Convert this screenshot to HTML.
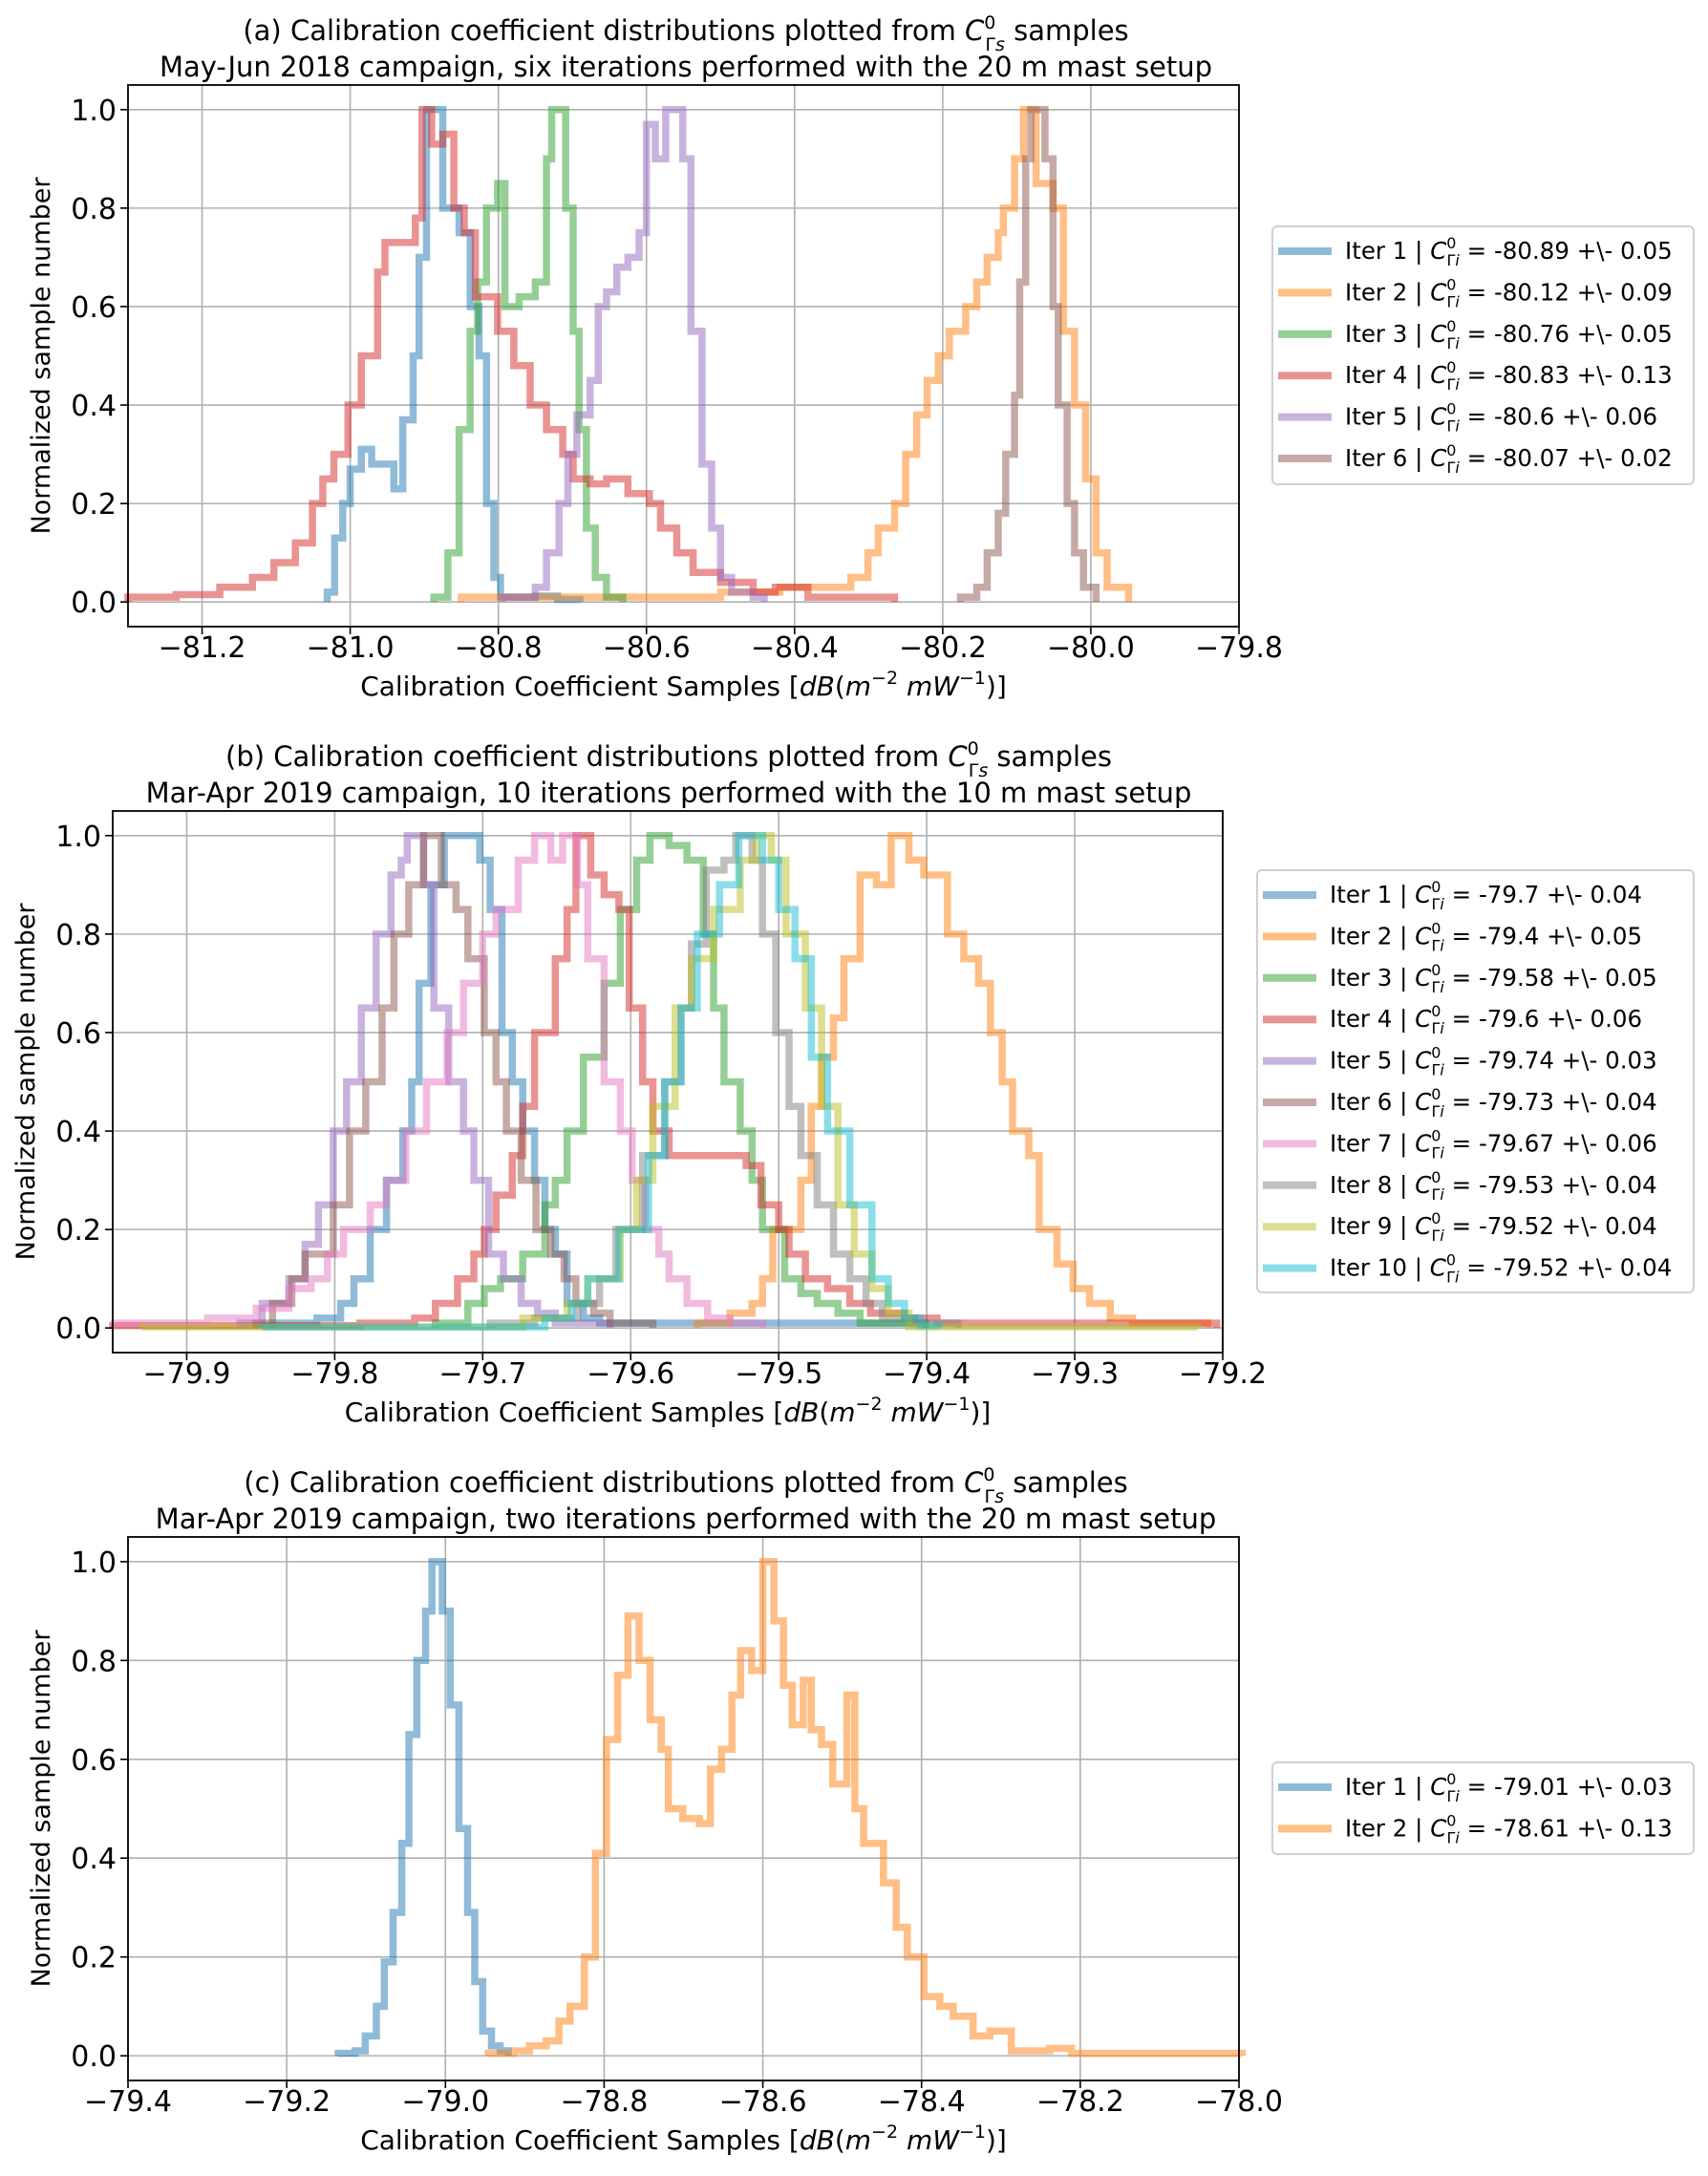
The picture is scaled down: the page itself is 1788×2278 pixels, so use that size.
<!DOCTYPE html>
<html><head><meta charset="utf-8">
<style>
html,body{margin:0;padding:0;background:#fff;}
svg{display:block;font-family:"DejaVu Sans","Liberation Sans",sans-serif;}
</style></head>
<body>
<svg id="fig" width="1788" height="2278" viewBox="0 0 1788 2278" xmlns="http://www.w3.org/2000/svg"></svg>
<script>
// ---------- data (bin left edge, normalized height) ----------
const colors = ["#1f77b4","#ff7f0e","#2ca02c","#d62728","#9467bd","#8c564b","#e377c2","#7f7f7f","#bcbd22","#17becf"];

// Panel (a)
const aLabels = ["-80.89 +\\- 0.05","-80.12 +\\- 0.09","-80.76 +\\- 0.05","-80.83 +\\- 0.13","-80.6 +\\- 0.06","-80.07 +\\- 0.02"];
const aXTicks = [-81.2,-81.0,-80.8,-80.6,-80.4,-80.2,-80.0,-79.8];
const aX1 = [-81.031,-81.021,-81.010,-81.0,-80.985,-80.971,-80.941,-80.929,-80.915,-80.907,-80.897,-80.875,-80.853,-80.838,-80.826,-80.816,-80.806,-80.797,-80.75,-80.72,-80.69];
const aY1 = [0.02,0.13,0.2,0.27,0.31,0.28,0.23,0.37,0.5,0.7,1.0,0.8,0.75,0.6,0.5,0.2,0.05,0.01,0.012,0.005,0];
const aX2 = [-80.85,-80.5,-80.42,-80.324,-80.301,-80.287,-80.265,-80.25,-80.235,-80.221,-80.206,-80.191,-80.169,-80.154,-80.140,-80.125,-80.118,-80.103,-80.091,-80.074,-80.051,-80.037,-80.022,-80.007,-79.993,-79.978,-79.949];
const aY2 = [0.01,0.02,0.03,0.05,0.1,0.15,0.2,0.3,0.38,0.45,0.5,0.55,0.6,0.65,0.7,0.75,0.8,0.9,1.0,0.85,0.8,0.55,0.4,0.25,0.1,0.03,0];
const aX3 = [-80.887,-80.868,-80.853,-80.838,-80.828,-80.816,-80.801,-80.791,-80.772,-80.75,-80.735,-80.728,-80.709,-80.699,-80.691,-80.681,-80.669,-80.654,-80.632];
const aY3 = [0.01,0.1,0.35,0.55,0.65,0.8,0.85,0.6,0.62,0.65,0.9,1.0,0.8,0.55,0.35,0.15,0.05,0.01,0];
const aX4 = [-81.3,-81.235,-81.176,-81.132,-81.103,-81.074,-81.051,-81.037,-81.022,-81.003,-80.985,-80.963,-80.953,-80.912,-80.903,-80.890,-80.875,-80.860,-80.846,-80.831,-80.801,-80.779,-80.757,-80.735,-80.713,-80.699,-80.676,-80.654,-80.625,-80.596,-80.581,-80.559,-80.537,-80.5,-80.456,-80.426,-80.382,-80.265];
const aY4 = [0.01,0.015,0.03,0.05,0.08,0.12,0.2,0.25,0.3,0.4,0.5,0.67,0.73,0.78,1.0,0.93,0.95,0.8,0.75,0.62,0.55,0.48,0.4,0.35,0.3,0.25,0.24,0.25,0.22,0.2,0.15,0.1,0.06,0.04,0.02,0.03,0.01,0];
const aX5 = [-80.794,-80.75,-80.735,-80.718,-80.706,-80.694,-80.676,-80.665,-80.654,-80.640,-80.625,-80.610,-80.6,-80.588,-80.574,-80.551,-80.540,-80.525,-80.512,-80.5,-80.485,-80.456,-80.441];
const aY5 = [0.01,0.03,0.1,0.2,0.3,0.38,0.45,0.6,0.63,0.68,0.7,0.75,0.97,0.9,1.0,0.9,0.55,0.28,0.15,0.05,0.02,0.01,0];
const aX6 = [-80.176,-80.154,-80.140,-80.125,-80.115,-80.103,-80.096,-80.088,-80.081,-80.062,-80.051,-80.044,-80.032,-80.022,-80.010,-79.993];
const aY6 = [0.01,0.03,0.1,0.18,0.3,0.42,0.65,0.9,1.0,0.9,0.6,0.4,0.2,0.1,0.03,0];

// Panel (b)
const bLabels = ["-79.7 +\\- 0.04","-79.4 +\\- 0.05","-79.58 +\\- 0.05","-79.6 +\\- 0.06","-79.74 +\\- 0.03","-79.73 +\\- 0.04","-79.67 +\\- 0.06","-79.53 +\\- 0.04","-79.52 +\\- 0.04","-79.52 +\\- 0.04"];
const bXTicks = [-79.9,-79.8,-79.7,-79.6,-79.5,-79.4,-79.3,-79.2];
const bX1 = [-79.842,-79.812,-79.796,-79.787,-79.776,-79.765,-79.754,-79.748,-79.743,-79.735,-79.726,-79.702,-79.695,-79.687,-79.680,-79.673,-79.665,-79.658,-79.651,-79.643,-79.632,-79.621,-79.401];
const bY1 = [0.01,0.02,0.05,0.1,0.2,0.3,0.4,0.5,0.7,0.9,1.0,0.95,0.85,0.6,0.5,0.4,0.3,0.2,0.15,0.05,0.02,0.01,0];
const bX2 = [-79.555,-79.533,-79.518,-79.511,-79.504,-79.485,-79.478,-79.471,-79.463,-79.456,-79.445,-79.434,-79.424,-79.412,-79.402,-79.386,-79.375,-79.365,-79.357,-79.349,-79.342,-79.331,-79.324,-79.312,-79.301,-79.290,-79.276,-79.261,-79.210];
const bY2 = [0.01,0.03,0.05,0.1,0.2,0.3,0.45,0.55,0.63,0.75,0.92,0.9,1.0,0.95,0.92,0.8,0.75,0.7,0.6,0.5,0.4,0.35,0.2,0.13,0.08,0.05,0.02,0.01,0];
const bX3 = [-79.732,-79.710,-79.699,-79.688,-79.673,-79.658,-79.651,-79.643,-79.632,-79.618,-79.607,-79.596,-79.587,-79.574,-79.562,-79.551,-79.544,-79.537,-79.526,-79.518,-79.511,-79.496,-79.485,-79.474,-79.460,-79.445,-79.401];
const bY3 = [0.01,0.05,0.08,0.1,0.15,0.25,0.3,0.4,0.55,0.7,0.85,0.95,1.0,0.98,0.95,0.8,0.65,0.5,0.4,0.3,0.2,0.1,0.07,0.05,0.03,0.01,0];
const bX4 = [-79.95,-79.783,-79.746,-79.732,-79.717,-79.706,-79.699,-79.691,-79.680,-79.673,-79.665,-79.651,-79.643,-79.637,-79.627,-79.618,-79.608,-79.601,-79.592,-79.585,-79.574,-79.548,-79.522,-79.512,-79.5,-79.493,-79.482,-79.467,-79.452,-79.438,-79.415,-79.393,-79.204];
const bY4 = [0.005,0.01,0.02,0.05,0.1,0.15,0.2,0.27,0.35,0.45,0.6,0.75,0.85,1.0,0.92,0.88,0.85,0.65,0.5,0.4,0.35,0.35,0.33,0.25,0.2,0.15,0.1,0.08,0.05,0.03,0.02,0.01,0];
const bX5 = [-79.864,-79.849,-79.831,-79.820,-79.811,-79.801,-79.792,-79.782,-79.772,-79.762,-79.755,-79.751,-79.740,-79.733,-79.723,-79.713,-79.706,-79.696,-79.686,-79.674,-79.663,-79.651,-79.614];
const bY5 = [0.01,0.05,0.1,0.17,0.25,0.4,0.5,0.65,0.8,0.92,0.95,1.0,0.9,0.65,0.5,0.4,0.3,0.15,0.1,0.05,0.03,0.01,0];
const bX6 = [-79.853,-79.842,-79.829,-79.820,-79.801,-79.790,-79.779,-79.768,-79.760,-79.750,-79.740,-79.728,-79.718,-79.710,-79.699,-79.691,-79.684,-79.674,-79.664,-79.654,-79.645,-79.637,-79.625,-79.614,-79.585];
const bY6 = [0.01,0.05,0.1,0.15,0.25,0.4,0.5,0.65,0.8,0.9,1.0,0.9,0.85,0.75,0.6,0.5,0.4,0.3,0.2,0.15,0.1,0.05,0.03,0.01,0];
const bX7 = [-79.949,-79.886,-79.853,-79.831,-79.816,-79.805,-79.794,-79.776,-79.765,-79.752,-79.738,-79.724,-79.713,-79.700,-79.691,-79.676,-79.665,-79.654,-79.646,-79.636,-79.629,-79.618,-79.607,-79.599,-79.590,-79.581,-79.574,-79.562,-79.548,-79.533,-79.511];
const bY7 = [0.01,0.02,0.04,0.08,0.1,0.15,0.2,0.25,0.3,0.4,0.5,0.6,0.7,0.8,0.85,0.95,1.0,0.95,1.0,0.9,0.75,0.5,0.4,0.3,0.2,0.15,0.1,0.05,0.02,0.01,0];
const bX8 = [-79.695,-79.665,-79.636,-79.621,-79.610,-79.592,-79.577,-79.566,-79.559,-79.549,-79.537,-79.529,-79.518,-79.511,-79.502,-79.493,-79.485,-79.474,-79.463,-79.452,-79.441,-79.430,-79.408,-79.379];
const bY8 = [0.01,0.02,0.05,0.1,0.2,0.35,0.5,0.65,0.78,0.93,0.95,1.0,0.95,0.8,0.6,0.45,0.35,0.25,0.15,0.1,0.05,0.02,0.01,0];
const bX9 = [-79.930,-79.673,-79.643,-79.629,-79.607,-79.596,-79.585,-79.570,-79.559,-79.544,-79.526,-79.515,-79.505,-79.495,-79.482,-79.471,-79.460,-79.449,-79.437,-79.426,-79.412,-79.217];
const bY9 = [0.002,0.02,0.05,0.1,0.2,0.3,0.45,0.65,0.75,0.85,0.95,1.0,0.95,0.8,0.65,0.45,0.25,0.15,0.08,0.03,0.002,0];
const bX10 = [-79.849,-79.658,-79.640,-79.629,-79.608,-79.588,-79.577,-79.566,-79.555,-79.540,-79.527,-79.511,-79.5,-79.489,-79.478,-79.467,-79.452,-79.437,-79.426,-79.415,-79.404,-79.392];
const bY10 = [0.002,0.02,0.05,0.1,0.2,0.35,0.5,0.65,0.8,0.9,1.0,0.95,0.85,0.75,0.55,0.4,0.25,0.1,0.05,0.02,0.005,0];

// Panel (c)
const cLabels = ["-79.01 +\\- 0.03","-78.61 +\\- 0.13"];
const cXTicks = [-79.4,-79.2,-79.0,-78.8,-78.6,-78.4,-78.2,-78.0];
const cX1 = [-79.135,-79.114,-79.101,-79.087,-79.077,-79.066,-79.055,-79.046,-79.036,-79.025,-79.017,-79.004,-78.994,-78.983,-78.972,-78.963,-78.953,-78.942,-78.931,-78.921];
const cY1 = [0.005,0.01,0.04,0.1,0.19,0.29,0.43,0.65,0.8,0.9,1.0,0.9,0.71,0.46,0.29,0.15,0.05,0.02,0.01,0];
const cX2 = [-78.946,-78.914,-78.894,-78.873,-78.857,-78.843,-78.825,-78.811,-78.797,-78.783,-78.770,-78.756,-78.742,-78.728,-78.719,-78.701,-78.680,-78.666,-78.652,-78.639,-78.628,-78.614,-78.600,-78.586,-78.574,-78.563,-78.549,-78.539,-78.526,-78.512,-78.494,-78.484,-78.473,-78.448,-78.432,-78.418,-78.397,-78.377,-78.360,-78.335,-78.314,-78.287,-78.239,-78.211,-77.996];
const cY2 = [0.005,0.01,0.02,0.03,0.07,0.1,0.2,0.41,0.64,0.77,0.89,0.8,0.68,0.62,0.5,0.48,0.47,0.58,0.62,0.73,0.82,0.78,1.0,0.88,0.75,0.67,0.76,0.66,0.63,0.55,0.73,0.5,0.43,0.35,0.26,0.2,0.12,0.1,0.08,0.04,0.05,0.01,0.015,0.005,0];

const yTicks = [0.0,0.2,0.4,0.6,0.8,1.0];

// ---------- drawing ----------
const NS = "http://www.w3.org/2000/svg";
const svg = document.getElementById("fig");
function mk(tag, attrs, parent){ const e=document.createElementNS(NS,tag); for(const k in attrs) e.setAttribute(k,attrs[k]); (parent||svg).appendChild(e); return e; }

function panel(cfg){
  const g = mk("g",{});
  
  
  const L=cfg.L,R=cfg.R,T=cfg.T,B=cfg.B;
  const xs = v => L + (v-cfg.xmin)/(cfg.xmax-cfg.xmin)*(R-L);
  const ys = v => B - (v-(-0.05))/1.1*(B-T);
  cfg.xticks.forEach(t=>{
    const gl = mk("line",{x1:xs(t),x2:xs(t),y1:T,y2:B,stroke:"#b0b0b0","stroke-width":1.6},g);
    
    
  });
  yTicks.forEach(t=>{
    const gl = mk("line",{x1:L,x2:R,y1:ys(t),y2:ys(t),stroke:"#b0b0b0","stroke-width":1.6},g);
    
    
  });
  cfg.series.forEach((s,i)=>{
    const X=s[0],Y=s[1];
    let d = "M"+xs(X[0]).toFixed(1)+","+ys(0).toFixed(1);
    for(let k=0;k<X.length;k++){
      d += " L"+xs(X[k]).toFixed(1)+","+ys(Y[k]).toFixed(1);
      if(k<X.length-1) d += " L"+xs(X[k+1]).toFixed(1)+","+ys(Y[k]).toFixed(1);
    }
    const p = mk("path",{d:d,fill:"none",stroke:colors[i],"stroke-width":7.5,"stroke-opacity":0.5,"stroke-linejoin":"miter"},g);
    
    
  });
  const fr = mk("rect",{x:L,y:T,width:R-L,height:B-T,fill:"none",stroke:"#000","stroke-width":1.8},g);
  
  
  cfg.xticks.forEach(t=>{
    mk("line",{x1:xs(t),x2:xs(t),y1:B,y2:B+8,stroke:"#000","stroke-width":1.6},g);
    const tx = mk("text",{x:xs(t),y:B+32,"font-size":30,"text-anchor":"middle",fill:"#000"},g);
    tx.textContent = (t<0?"\u2212":"")+Math.abs(t).toFixed(1);
    
    
  });
  yTicks.forEach(t=>{
    mk("line",{x1:L-8,x2:L,y1:ys(t),y2:ys(t),stroke:"#000","stroke-width":1.6},g);
    const tx = mk("text",{x:L-12,y:ys(t)+11,"font-size":30,"text-anchor":"end",fill:"#000"},g);
    tx.textContent = t.toFixed(1);
    
    
  });
  const t1 = mk("text",{x:cfg.tcx,y:T-47,"font-size":29,"text-anchor":"middle",fill:"#000"},g);
  t1.innerHTML = cfg.title1 + ' <tspan font-style="italic">C</tspan><tspan font-size="19" dy="-12">0</tspan><tspan font-size="19" dx="-11" dy="23">Γ<tspan font-style="italic">s</tspan></tspan><tspan dy="-11"> samples</tspan>';
  
  
  const t2 = mk("text",{x:cfg.tcx,y:T-9,"font-size":29,"text-anchor":"middle",fill:"#000"},g);
  t2.textContent = cfg.title2;
  
  
  const xl = mk("text",{x:(L+R)/2,y:B+72,"font-size":28,"text-anchor":"middle",fill:"#000"},g);
  xl.innerHTML = 'Calibration Coefficient Samples [<tspan font-style="italic">dB</tspan>(<tspan font-style="italic">m</tspan><tspan font-size="19" dy="-12">−2</tspan><tspan dy="12" font-style="italic"> mW</tspan><tspan font-size="19" dy="-12">−1</tspan><tspan dy="12">)]</tspan>';
  
  
  const yl = mk("text",{x:0,y:0,"font-size":27,"text-anchor":"middle",fill:"#000",transform:"translate("+cfg.ylx+","+((T+B)/2)+") rotate(-90)"},g);
  yl.textContent = "Normalized sample number";
  
  
  const lg = mk("g",{},g);
  
  
  mk("rect",{x:cfg.lgx,y:cfg.lgy,width:1773-cfg.lgx,height:cfg.lgh,rx:5,fill:"#fff",stroke:"#d0d0d0","stroke-width":2},lg);
  cfg.labels.forEach((lab,i)=>{
    const cy = cfg.lgy + 26 + i*43.4;
    const ln = mk("line",{x1:cfg.lgx+6,x2:cfg.lgx+62,y1:cy,y2:cy,stroke:colors[i],"stroke-width":8,"stroke-opacity":0.5},lg);
    
    
    const tx = mk("text",{x:cfg.lgx+76,y:cy+8,"font-size":24.5,fill:"#000"},lg);
    tx.innerHTML = 'Iter '+(i+1)+' | <tspan font-style="italic">C</tspan><tspan font-size="16" dy="-11">0</tspan><tspan font-size="16" dx="-10" dy="18">Γ<tspan font-style="italic">i</tspan></tspan><tspan dy="-7"> = '+lab+'</tspan>';
    
    
  });
}

panel({name:"panel-a",L:134,R:1297,T:89,B:656,xmin:-81.3,xmax:-79.8,xticks:aXTicks,tcx:718,ylx:52,
  title1:"(a) Calibration coefficient distributions plotted from",
  title2:"May-Jun 2018 campaign,  six iterations performed with the 20 m mast setup",
  series:[[aX1,aY1],[aX2,aY2],[aX3,aY3],[aX4,aY4],[aX5,aY5],[aX6,aY6]],
  labels:aLabels,lgx:1332,lgy:237,lgh:270});
panel({name:"panel-b",L:118,R:1280,T:849,B:1416,xmin:-79.95,xmax:-79.2,xticks:bXTicks,tcx:700,ylx:36,
  title1:"(b) Calibration coefficient distributions plotted from",
  title2:"Mar-Apr 2019 campaign, 10 iterations performed with the 10 m mast setup",
  series:[[bX1,bY1],[bX2,bY2],[bX3,bY3],[bX4,bY4],[bX5,bY5],[bX6,bY6],[bX7,bY7],[bX8,bY8],[bX9,bY9],[bX10,bY10]],
  labels:bLabels,lgx:1316,lgy:911,lgh:442});
panel({name:"panel-c",L:134,R:1297,T:1609,B:2178,xmin:-79.4,xmax:-78.0,xticks:cXTicks,tcx:718,ylx:52,
  title1:"(c) Calibration coefficient distributions plotted from",
  title2:"Mar-Apr 2019 campaign, two iterations performed with the 20 m mast setup",
  series:[[cX1,cY1],[cX2,cY2]],
  labels:cLabels,lgx:1332,lgy:1845,lgh:96});
</script>
</body></html>
